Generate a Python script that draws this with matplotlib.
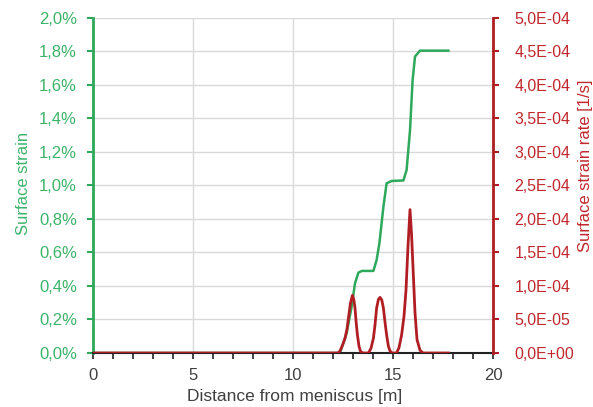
import matplotlib
matplotlib.use("Agg")
import matplotlib.pyplot as plt
from matplotlib.ticker import FuncFormatter, MultipleLocator

plt.rcParams['font.family'] = ['Liberation Sans', 'DejaVu Sans']

# Surface strain [%] along the strand
distance_strain = [0.0, 12.35, 12.68, 12.93, 13.10, 13.27, 13.45, 14.02, 14.18, 14.32,
                   14.52, 14.68, 14.93, 15.52, 15.68, 15.85, 15.98, 16.10, 16.35, 17.77]
strain_pct = [0.0, 0.0, 0.117, 0.276, 0.416, 0.48, 0.49, 0.49, 0.555, 0.655,
              0.873, 1.013, 1.027, 1.03, 1.093, 1.33, 1.63, 1.77, 1.805, 1.805]

# Surface strain rate [1/s]
distance_rate = [0.0, 12.25, 12.35, 12.48, 12.60, 12.70, 12.77, 12.87, 12.97, 13.04,
                 13.10, 13.16, 13.22, 13.30, 13.38, 13.50, 13.77, 13.90, 14.02, 14.10,
                 14.18, 14.27, 14.35, 14.44, 14.52, 14.60, 14.68, 14.77, 14.85, 14.95,
                 15.18, 15.30, 15.43, 15.55, 15.65, 15.75, 15.85, 15.93, 16.02, 16.10,
                 16.20, 16.35, 16.50, 17.77]
rate = [0.0, 0.0, 0.03e-4, 0.12e-4, 0.22e-4, 0.36e-4, 0.52e-4, 0.74e-4, 0.86e-4, 0.80e-4,
        0.67e-4, 0.45e-4, 0.27e-4, 0.10e-4, 0.02e-4, 0.0, 0.0, 0.07e-4, 0.22e-4, 0.42e-4,
        0.67e-4, 0.80e-4, 0.83e-4, 0.79e-4, 0.67e-4, 0.46e-4, 0.27e-4, 0.10e-4, 0.03e-4, 0.0,
        0.0, 0.08e-4, 0.27e-4, 0.55e-4, 0.94e-4, 1.60e-4, 2.14e-4, 1.75e-4, 1.14e-4, 0.60e-4,
        0.20e-4, 0.04e-4, 0.0, 0.0]

x_ticks = [0, 5, 10, 15, 20]

green = '#2EA85A'
green_txt = '#3DB36A'
red = '#B01E23'
red_txt = '#C0282D'
grid_col = '#D9D9D9'

fig = plt.figure(figsize=(5.93, 4.07), dpi=100)
ax = fig.add_axes([0.1568, 0.1327, 0.6746, 0.8231])
ax2 = ax.twinx()

ax.plot(distance_strain, strain_pct, color=green, lw=1.8, solid_joinstyle='round')
ax2.plot(distance_rate, rate, color=red, lw=2.0, solid_joinstyle='round')

ax.set_xlim(0, 20)
ax.set_ylim(0, 2.0)
ax2.set_ylim(0, 5e-4)

ax.set_xticks(x_ticks)
ax.xaxis.set_minor_locator(MultipleLocator(1))
ax.yaxis.set_major_locator(MultipleLocator(0.2))
ax2.yaxis.set_major_locator(MultipleLocator(0.5e-4))

ax.yaxis.set_major_formatter(FuncFormatter(lambda v, p: f"{v:.1f}%".replace('.', ',')))
ax2.yaxis.set_major_formatter(FuncFormatter(lambda v, p: f"{v:.1E}".replace('.', ',')))

ax.grid(True, which='major', color=grid_col, lw=1.0)
ax.set_axisbelow(True)

for a in (ax, ax2):
    a.spines['top'].set_visible(False)
ax.spines['right'].set_visible(False)
ax.spines['left'].set_color(green)
ax.spines['left'].set_linewidth(2.0)
ax.spines['bottom'].set_color('#222222')
ax.spines['bottom'].set_linewidth(1.5)
ax2.spines['left'].set_visible(False)
ax2.spines['bottom'].set_visible(False)
ax2.spines['right'].set_color(red)
ax2.spines['right'].set_linewidth(2.0)

ax.tick_params(axis='x', which='both', direction='out', length=4, width=1.2,
               color='#222222', labelcolor='#404040', labelsize=12, pad=6.5)
ax.tick_params(axis='y', direction='out', length=4, width=1.5, color=green,
               labelcolor=green_txt, labelsize=12, pad=7.5)
ax2.tick_params(axis='y', direction='out', length=4, width=1.5, color=red,
                labelcolor=red_txt, labelsize=11.5, pad=11.5)

ax.set_xlabel('Distance from meniscus [m]', fontsize=12.5, color='#404040')
ax.set_ylabel('Surface strain', fontsize=12, color=green_txt)
ax2.set_ylabel('Surface strain rate [1/s]', fontsize=12, color=red_txt)
ax.xaxis.set_label_coords(0.505, -0.108)
ax.yaxis.set_label_coords(-0.155, 0.507)
ax2.yaxis.set_label_coords(1.2125, 0.558)

fig.savefig('out.png', dpi=100)
